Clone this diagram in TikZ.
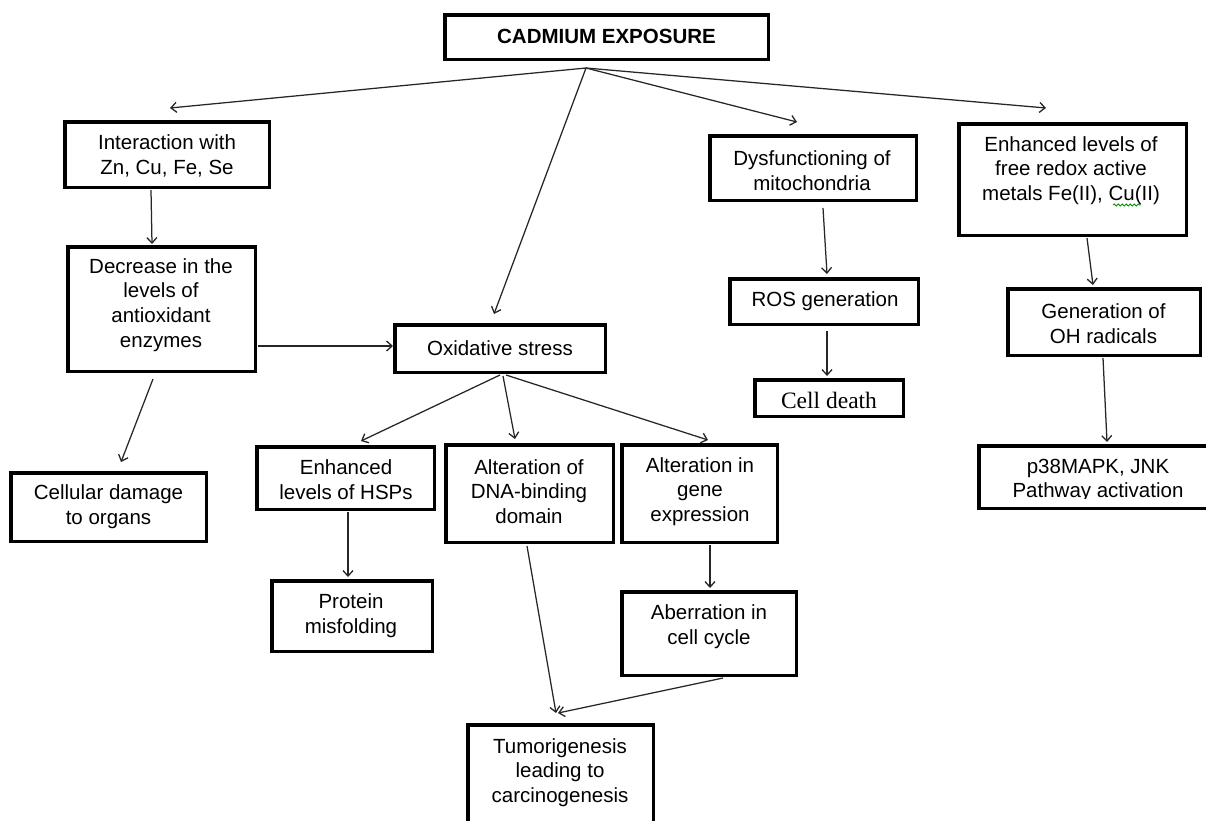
\documentclass[tikz,border=0pt]{standalone}
\usepackage{fontspec}
\setmainfont{Liberation Sans}
\newfontfamily\serifface{Liberation Serif}
\usetikzlibrary{arrows.meta,decorations.pathmorphing}

% box given by its outer edges: name, x1, y1, x2, y2
\newcommand{\flowbox}[5]{%
  \node[box, minimum width={#4-#2-3.5}, minimum height={#5-#3-3.5}]
    (#1) at ({(#2+#4)/2},{(#3+#5)/2}) {};}

\begin{document}
\begin{tikzpicture}[x=1pt,y=-1pt,
  box/.style={draw=black, line width=3.5pt, rectangle, inner sep=0pt, fill=white},
  txt/.style={align=center, inner sep=0pt, text=black,
              font=\fontsize{20.5}{24.7}\selectfont},
  link/.style={draw=black!85, line width=1.25pt,
               -{Straight Barb[length=5.5pt,width=10pt,line width=1.3pt]}},
]
\fill[white] (0,0) rectangle (1206,820);
\clip (0,0) rectangle (1206,820);

% ---------- boxes ----------
\flowbox{top}{443}{13}{770}{61}
\flowbox{inter}{63}{120}{271}{189}
\flowbox{dec}{66}{245}{257}{373}
\flowbox{dmg}{9}{471}{208}{543}
\flowbox{ox}{393}{323}{607}{374}
\flowbox{hsp}{255}{445}{436}{511}
\flowbox{dna}{444}{443}{615}{544}
\flowbox{gene}{620}{443}{779}{544}
\flowbox{prot}{270}{579}{434}{653}
\flowbox{aber}{620}{590}{798}{677}
\flowbox{tumor}{466}{723}{655}{830}
\flowbox{dys}{708}{134}{918}{202}
\flowbox{ros}{728}{277}{920}{326}
\flowbox{death}{753}{378}{905}{418}
\flowbox{redox}{957}{122}{1188}{237}
\flowbox{oh}{1006}{287}{1202}{357}
\flowbox{p38}{977}{444}{1230}{510}

% ---------- texts ----------
\node[txt, font=\fontsize{20.5}{24.7}\selectfont\bfseries] (top-t) at (606.5,36) {CADMIUM EXPOSURE};
\node[txt] (inter-t) at (167,156) {Interaction with\\Zn, Cu, Fe, Se};
\node[txt] (dec-t) at (161,305) {Decrease in the\\levels of\\antioxidant\\enzymes};
\node[txt] (dmg-t) at (108.5,506.5) {Cellular damage\\to organs};
\node[txt] (ox-t) at (500,348) {Oxidative stress};
\node[txt] (hsp-t) at (346,480) {Enhanced\\levels of HSPs};
\node[txt] (dna-t) at (529,491.5) {Alteration of\\DNA-binding\\domain};
\node[txt] (gene-t) at (700,491.5) {Alteration in\\gene\\expression};
\node[txt] (prot-t) at (351,616) {Protein\\misfolding};
\node[txt] (aber-t) at (709,626.5) {Aberration in\\cell cycle};
\node[txt] (tumor-t) at (560,772.5) {Tumorigenesis\\leading to\\carcinogenesis};
\node[txt] (dys-t) at (812,170.5) {Dysfunctioning of\\mitochondria};
\node[txt] (ros-t) at (825,301) {ROS generation};
\node[txt, font=\fontsize{23.5}{28}\selectfont\serifface] (death-t) at (829,400) {Cell death};
\node[txt] (redox-t) at (1071,170.5) {Enhanced levels of\\free redox active\\metals Fe(II), Cu(II)};
\node[txt] (oh-t) at (1103.5,323.5) {Generation of\\OH radicals};
\begin{scope}
  \clip (977,444) rectangle (1206,498.5);
  \node[txt] (p38-t) at (1098,480.5) {p38MAPK, JNK\\Pathway activation};
\end{scope}

% spelling mark under "Cu"
\draw[green!55!black, line width=0.8pt, decorate,
      decoration={snake, amplitude=1.1pt, segment length=4pt}]
  (1113,205) -- (1141,205);

% ---------- connectors ----------
\draw[link] ([shift={(-20.5,31)}]top.center) -- ([shift={(3,-46.5)}]inter.center);
\draw[link] ([shift={(-20.5,31)}]top.center) -- ([shift={(-6,-34.5)}]ox.center);
\draw[link] ([shift={(-20.5,31)}]top.center) -- ([shift={(-16,-46)}]dys.center);
\draw[link] ([shift={(-20.5,31)}]top.center) -- ([shift={(-26.5,-71.5)}]redox.center);

\draw[link] ([shift={(-16,35.5)}]inter.center) -- ([shift={(-9.5,-65)}]dec.center);
\draw[link] ([shift={(96.5,37)}]dec.center) -- ([shift={(-107,-2.5)}]ox.center);
\draw[link] ([shift={(-8.5,70)}]dec.center) -- ([shift={(12.5,-45)}]dmg.center);

\draw[link] ([shift={(0,26.5)}]ox.center) -- ([shift={(15.5,-37)}]hsp.center);
\draw[link] ([shift={(3,27.5)}]ox.center) -- ([shift={(-14.5,-54.5)}]dna.center);
\draw[link] ([shift={(6,26.5)}]ox.center) -- ([shift={(8.5,-53.5)}]gene.center);

\draw[link] ([shift={(2.5,34)}]hsp.center) -- ([shift={(-4,-39)}]prot.center);
\draw[link] ([shift={(-2.5,52.5)}]dna.center) -- ([shift={(-4.5,-63.5)}]tumor.center);
\draw[link] ([shift={(10.5,51.5)}]gene.center) -- ([shift={(1,-45.5)}]aber.center);
\draw[link] ([shift={(14,44.5)}]aber.center) -- ([shift={(-2.5,-63.5)}]tumor.center);

\draw[link] ([shift={(10,40)}]dys.center) -- ([shift={(3,-27.5)}]ros.center);
\draw[link] ([shift={(3,29.5)}]ros.center) -- ([shift={(-2,-22)}]death.center);

\draw[link] ([shift={(14.5,58.5)}]redox.center) -- ([shift={(-11,-37)}]oh.center);
\draw[link] ([shift={(-1,36)}]oh.center) -- ([shift={(3.5,-35)}]p38.center);
\end{tikzpicture}
\end{document}
